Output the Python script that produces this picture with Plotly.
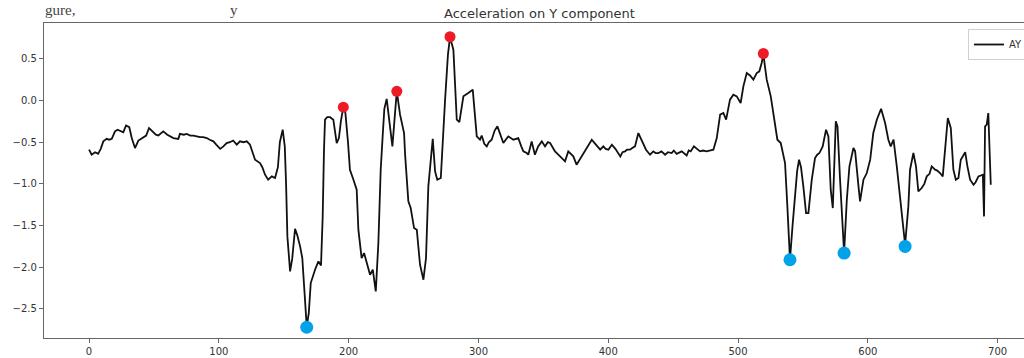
import plotly.graph_objects as go

# ---- data ----
sample_x = [0, 2, 4.6, 7, 9, 11, 13.6, 15.5, 17.5, 20, 22, 24, 26.4, 28.5, 31, 32.9, 35.4, 38, 41.8, 44,
            46.2, 49.5, 51.5, 53.4, 57.2, 60.3, 63, 65, 68.8, 70, 73, 75.3, 78, 80.4, 83, 85.5, 88, 90.7, 93, 95.8,
            98, 101, 103.5, 106, 108.5, 111, 113.8, 116.3, 119, 121.5, 124, 126, 127.9, 131.7, 133.5, 135.6, 138,
            140.8, 143.3, 145.5, 147, 149.2, 150.8, 151.8, 152.8, 154.9, 156.5, 158.7, 160.5, 162.6, 164.3, 166,
            167.7, 169.3, 170.8, 174.1, 176.7, 178.7, 180, 181, 181.8, 183.5, 185.7, 188.2, 190.8, 192.5, 194,
            195.9, 197.5, 199.5, 201, 203.7, 206.2, 207.5, 210, 211.9, 214, 216.5, 218.6, 220.9, 222.9, 224.7,
            226.2, 227.5, 229.3, 231, 233.7, 235.5, 237.1, 239.6, 242.7, 243.5, 246, 247.8, 250.4, 252.5, 255,
            257.6, 259.6, 261.4, 263.2, 264.8, 266.6, 268.3, 271, 272.5, 274.3, 276.5, 278.1, 280.7, 283.3, 285.3,
            288.4, 292.2, 295.6, 298.7, 301.2, 302.5, 304.5, 306.4, 308, 310.2, 312.5, 314.6, 316.5, 319.2, 321,
            323, 326.9, 330.7, 333, 334.6, 337.2, 338.4, 341, 343.5, 346, 348.8, 351.3, 353.5, 355.2, 359, 362.9,
            365.4, 366.7, 369.2, 371.5, 373.1, 375.6, 377.5, 379.6, 382, 384.7, 387.3, 390, 392.4, 393.8, 396.2,
            398, 400.1, 402.8, 405.5, 407.8, 409.3, 411, 412.9, 414.4, 416.8, 418.5, 420.6, 423.2, 425.8, 429.1,
            432.2, 434.7, 436.5, 438.6, 441, 443.8, 446, 448.9, 450.5, 452.7, 456.6, 458.5, 460.4, 462, 463.5,
            466, 468, 470.7, 473, 475.8, 478, 481, 483.6, 486.2, 488.7, 490.8, 493.8, 496.4, 499, 502, 504.1,
            506.7, 509.2, 511.8, 514.4, 516.4, 518.2, 519.5, 520.8, 522.1, 525.2, 527.7, 530.3, 532.9, 536.2,
            538, 540, 542, 543.9, 545.5, 547, 548.5, 550.3, 552.4, 554.2, 556.8, 559.3, 561, 562.7, 565.2, 567.8,
            569.6, 571.4, 573, 575.3, 576.6, 578.6, 580.5, 581.7, 583.8, 585.8, 588.9, 590.2, 592.8, 594, 596.6,
            599.2, 601.8, 604.2, 606.9, 610.2, 613.3, 615.8, 617.6, 619.8, 622.3, 624.9, 626.9, 628.7, 631.2,
            632.5, 635.1, 637.1, 638.9, 641.5, 643.5, 645.4, 647.5, 649.2, 651.8, 653.5, 655.6, 657.7, 659.5,
            661.6, 663.9, 665.9, 667.8, 669.8, 671.6, 673.7, 675, 676.7, 678.8, 681.4, 683, 685.2, 688.6, 689.5,
            690.3, 691.6, 692.8, 694.7]
ay_values = [-0.59, -0.65, -0.62, -0.64, -0.58, -0.49, -0.46, -0.47, -0.46, -0.37, -0.35, -0.36, -0.38, -0.30,
             -0.32, -0.45, -0.57, -0.48, -0.44, -0.42, -0.33, -0.38, -0.41, -0.42, -0.37, -0.41, -0.43, -0.45,
             -0.46, -0.40, -0.41, -0.40, -0.42, -0.42, -0.43, -0.44, -0.44, -0.45, -0.47, -0.49, -0.53, -0.58,
             -0.55, -0.51, -0.50, -0.48, -0.53, -0.49, -0.50, -0.49, -0.53, -0.62, -0.71, -0.75, -0.80, -0.89,
             -0.95, -0.91, -0.93, -0.80, -0.50, -0.35, -0.55, -1.0, -1.63, -2.05, -1.90, -1.54, -1.62, -1.75,
             -1.89, -2.30, -2.71, -2.55, -2.19, -2.03, -1.93, -1.98, -1.4, -0.6, -0.23, -0.20, -0.20, -0.23,
             -0.51, -0.45, -0.25, -0.08, -0.15, -0.50, -0.83, -0.95, -1.07, -1.55, -1.89, -1.83, -1.95, -2.09,
             -2.03, -2.29, -1.71, -0.83, -0.43, -0.10, 0.02, -0.20, -0.55, -0.20, 0.11, -0.17, -0.39, -0.65,
             -1.21, -1.29, -1.53, -1.55, -1.97, -2.15, -1.89, -1.03, -0.70, -0.46, -0.85, -0.95, -0.93, -0.45,
             0.01, 0.55, 0.76, 0.61, -0.23, -0.26, 0.05, 0.09, 0.13, -0.43, -0.47, -0.42, -0.52, -0.55, -0.50,
             -0.47, -0.36, -0.31, -0.40, -0.51, -0.47, -0.43, -0.47, -0.45, -0.55, -0.61, -0.63, -0.65, -0.49,
             -0.65, -0.55, -0.49, -0.55, -0.50, -0.51, -0.61, -0.67, -0.71, -0.73, -0.61, -0.64, -0.67, -0.77,
             -0.72, -0.67, -0.60, -0.53, -0.47, -0.52, -0.57, -0.59, -0.55, -0.58, -0.59, -0.53, -0.58, -0.63,
             -0.67, -0.62, -0.61, -0.59, -0.59, -0.57, -0.55, -0.39, -0.47, -0.59, -0.65, -0.61, -0.63, -0.63,
             -0.61, -0.65, -0.62, -0.63, -0.60, -0.64, -0.61, -0.63, -0.66, -0.60, -0.61, -0.55, -0.58, -0.61,
             -0.60, -0.61, -0.60, -0.59, -0.45, -0.17, -0.15, -0.23, 0.01, 0.07, 0.05, -0.03, 0.17, 0.33, 0.30,
             0.25, 0.33, 0.35, 0.45, 0.56, 0.40, 0.25, 0.05, -0.19, -0.47, -0.51, -0.75, -1.27, -1.91, -1.50,
             -1.15, -0.85, -0.71, -0.80, -1.03, -1.35, -1.35, -0.95, -0.69, -0.65, -0.63, -0.55, -0.35, -0.43,
             -1.07, -1.29, -0.25, -0.31, -0.95, -1.60, -1.83, -1.19, -0.79, -0.57, -0.61, -1.03, -1.21, -0.95,
             -0.87, -0.71, -0.39, -0.23, -0.10, -0.27, -0.47, -0.55, -0.47, -0.79, -1.19, -1.43, -1.73, -1.27,
             -0.83, -0.63, -0.79, -1.09, -1.05, -1.0, -0.91, -0.88, -0.79, -0.83, -0.84, -0.87, -0.91, -0.59,
             -0.21, -0.33, -0.83, -0.95, -0.93, -0.71, -0.65, -0.62, -0.79, -0.95, -1.01, -0.98, -0.91, -0.89,
             -1.39, -0.31, -0.29, -0.15, -1.01]

peak_x = [195.9, 237.1, 278.1, 519.5]
peak_y = [-0.08, 0.11, 0.765, 0.564]
valley_x = [167.7, 540.0, 581.7, 628.7]
valley_y = [-2.72, -1.91, -1.83, -1.75]

x_ticks = [0, 100, 200, 300, 400, 500, 600, 700]
y_ticks = [0.5, 0.0, -0.5, -1.0, -1.5, -2.0, -2.5]
title_text = "Acceleration on Y component"
series_name = "AY"
caption_left = "gure,"
caption_right = "y"

FONT = "DejaVu Sans"

fig = go.Figure()
fig.add_trace(go.Scatter(x=sample_x, y=ay_values, mode="lines", name=series_name,
                         line=dict(color="#111111", width=1.8)))
fig.add_trace(go.Scatter(x=peak_x, y=peak_y, mode="markers", showlegend=False,
                         marker=dict(color="#ED1C24", size=11, line=dict(width=0))))
fig.add_trace(go.Scatter(x=valley_x, y=valley_y, mode="markers", showlegend=False,
                         marker=dict(color="#00A2E8", size=13, line=dict(width=0))))

fig.update_layout(
    width=1024, height=358,
    margin=dict(l=44, r=0, t=23, b=20, autoexpand=False),
    paper_bgcolor="white", plot_bgcolor="white",
    font=dict(family=FONT, size=10, color="#333333"),
    title=dict(text=title_text, x=539.5 / 1024, xanchor="center", y=1 - 13 / 358, yanchor="middle",
               font=dict(family=FONT, size=13, color="#333333")),
    showlegend=True,
    legend=dict(x=(968 - 44) / 980, y=1 - (29 - 23) / 315, xanchor="left", yanchor="top",
                bgcolor="white", bordercolor="#d0d0d0", borderwidth=1, tracegroupgap=0,
                font=dict(family=FONT, size=10, color="#333333")),
    xaxis=dict(range=[-34.7, 720.3], tickvals=x_ticks, ticktext=[str(v) for v in x_ticks],
               showgrid=False, zeroline=False, showline=True, linecolor="#666666", linewidth=1.2,
               mirror=True, ticks="outside", ticklen=4, tickcolor="#666666"),
    yaxis=dict(range=[-2.849, 0.930], tickvals=y_ticks,
               ticktext=[f"{v:.1f}".replace("-", "\u2212") for v in y_ticks],
               showgrid=False, zeroline=False, showline=True, linecolor="#666666", linewidth=1.2,
               mirror=False, ticks="outside", ticklen=4, tickcolor="#666666"),
)
fig.add_annotation(text=caption_left, xref="paper", yref="paper", x=-1 / 980, y=1 + 13 / 315,
                   xanchor="left", yanchor="middle", showarrow=False,
                   font=dict(family="Liberation Serif", size=15, color="#444444"))
fig.add_annotation(text=caption_right, xref="paper", yref="paper", x=(228 - 44) / 980, y=1 + 13 / 315,
                   xanchor="left", yanchor="middle", showarrow=False,
                   font=dict(family="Liberation Serif", size=15, color="#444444"))

fig.write_html("out.html")
